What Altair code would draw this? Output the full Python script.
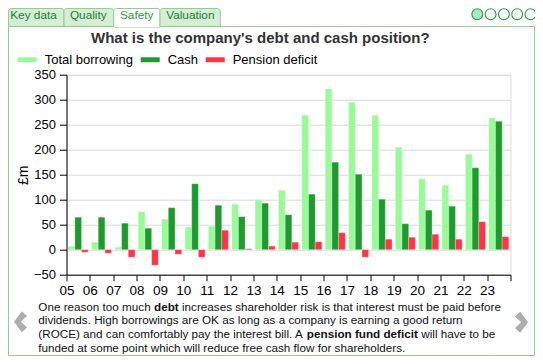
import altair as alt
import pandas as pd

# ---------------- data ----------------
years = ["05", "06", "07", "08", "09", "10", "11", "12", "13", "14",
         "15", "16", "17", "18", "19", "20", "21", "22", "23"]
total_borrowing = [7, 15, 5, 76, 61, 45, 47, 91, 100, 119,
                   269, 322, 295, 269, 205, 142, 129, 191, 264]
cash = [65, 65, 53, 43, 84, 132, 89, 66, 93, 70,
        111, 175, 151, 101, 52, 79, 87, 164, 257]
pension_deficit = [-5, -7, -15, -31, -9, -15, 39, 2, 7, 15,
                   16, 34, -15, 21, 25, 31, 21, 56, 26]
series_names = ["Total borrowing", "Cash", "Pension deficit"]
y_ticks = [-50, 0, 50, 100, 150, 200, 250, 300, 350]
tabs = ["Key data", "Quality", "Safety", "Valuation"]
title_text = "What is the company's debt and cash position?"

rows = []
for name, vals in zip(series_names, [total_borrowing, cash, pension_deficit]):
    for yr, v in zip(years, vals):
        rows.append({"year": yr, "series": name, "value": v})
df = pd.DataFrame(rows)
one = pd.DataFrame({"k": [0]})

# ---------------- layout helpers ----------------
FONT = "Liberation Sans"
PAD_L, PAD_T = 58.5, 66.7
W, H = 444, 200
OX, OY = 8 + PAD_L, 8 + PAD_T  # page position of plot origin


def px(X):
    return X - OX


def py(Y):
    return Y - OY


def text_at(txt, X, Y, size, weight="normal", color="black", align="left"):
    return alt.Chart(one).mark_text(
        text=txt, align=align, baseline="alphabetic", fontSize=size,
        fontWeight=weight, color=color, font=FONT
    ).encode(x=alt.value(px(X)), y=alt.value(py(Y)))


def rect_at(X1, Y1, X2, Y2, fill, stroke, r=0):
    return alt.Chart(one).mark_rect(
        fill=fill, stroke=stroke, strokeWidth=1,
        cornerRadiusTopLeft=r, cornerRadiusTopRight=r
    ).encode(x=alt.value(px(X1)), x2=alt.value(px(X2)),
             y=alt.value(py(Y1)), y2=alt.value(py(Y2)))


def point_at(X, Y, shape, size, fill, stroke=None, sw=0):
    kw = dict(shape=shape, size=size, fill=fill, filled=True, opacity=1,
              strokeWidth=sw)
    if stroke is not None:
        kw["stroke"] = stroke
    return alt.Chart(one).mark_point(**kw).encode(
        x=alt.value(px(X)), y=alt.value(py(Y)))


GREEN_BORDER = "#8fcf8f"
TAB_BG = "#d6edd6"
TAB_TXT = "#1d7d32"

layers = []
# panel border
layers.append(rect_at(8.5, 26.5, 534.5, 355.5, "transparent", GREEN_BORDER))
# tabs
tab_edges = [8.5, 64, 113.7, 160, 220.3]
tab_centers = [33.5, 88.3, 136.7, 190.3]
for i, name in enumerate(tabs):
    sel = name == "Safety"
    layers.append(rect_at(tab_edges[i], 8.5, tab_edges[i + 1],
                          27.2 if sel else 26.5,
                          "white" if sel else TAB_BG, GREEN_BORDER, r=3))
    layers.append(text_at(name, tab_centers[i], 19.4, 11.8,
                          color="#2a9a3a" if sel else TAB_TXT, align="center"))
# hide panel top line under the selected tab
layers.append(alt.Chart(one).mark_rule(color="white", strokeWidth=1.4).encode(
    x=alt.value(px(114.4)), x2=alt.value(px(159.3)),
    y=alt.value(py(26.5))))
# page dots
dot_x = [477.3, 490.6, 503.9, 517.2, 530.5]
for i, X in enumerate(dot_x):
    layers.append(point_at(X, 14.2, "circle", 118,
                           "#a6e9c2" if i == 0 else "white",
                           stroke="#2a9d4a", sw=1.1))

# chart title
layers.append(text_at(title_text, 260.3, 42.7, 15, weight="bold",
                      color="#333333", align="center"))

# bars
bars = alt.Chart(df).mark_bar(stroke="white", strokeWidth=0.8,
                              strokeOpacity=0.35).encode(
    x=alt.X("year:N", sort=years,
            scale=alt.Scale(paddingInner=0, paddingOuter=0),
            axis=alt.Axis(title=None, labelAngle=0, tickBand="extent",
                          labelOffset=-W / len(years) / 2, tickSize=6,
                          labelPadding=3, labelFontSize=13.5, labelFont=FONT,
                          labelColor="black", domainColor="black",
                          tickColor="black", grid=False)),
    xOffset=alt.XOffset("series:N", sort=series_names,
                        scale=alt.Scale(paddingInner=0, paddingOuter=0.25)),
    y=alt.Y("value:Q", scale=alt.Scale(domain=[-50, 350], nice=False),
            axis=alt.Axis(values=y_ticks, title="£m", titleFont=FONT,
                          titleFontSize=14, titleFontWeight="normal",
                          titleColor="black", titlePadding=3,
                          labelFontSize=13, labelFont=FONT, labelColor="black",
                          tickSize=7, labelPadding=4, domainColor="black",
                          tickColor="black", grid=True, gridColor="#dadada")),
    color=alt.Color("series:N", sort=series_names,
                    scale=alt.Scale(domain=series_names,
                                    range=["#98fb98", "#1e9a2e", "#ff3446"]),
                    legend=alt.Legend(orient="none", legendX=px(17.7),
                                      legendY=py(50), direction="horizontal",
                                      title=None,
                                      symbolType="M-1,-0.26H1V0.26H-1Z",
                                      symbolSize=361, symbolStrokeWidth=0,
                                      symbolOpacity=1,
                                      labelFontSize=13, labelFont=FONT,
                                      labelColor="black", labelOffset=8,
                                      columnPadding=7, padding=0)),
)
layers.append(bars)

# paragraph
P = 11.7
base = [310.5, 324.3, 338.1, 351.9]
LX = 38.3
sp = 0.278 * P
w_l1a = 9.894 * P
w_debt = 2.111 * P
w_l3a = 22.953 * P
w_pfd = 9.501 * P
TXT = "#111111"
layers.append(text_at("One reason too much", LX, base[0], P, color=TXT))
layers.append(text_at("debt", LX + w_l1a, base[0], P, weight="bold", color=TXT))
layers.append(text_at("increases shareholder risk is that interest must be paid before",
                      LX + w_l1a + w_debt + sp, base[0], P, color=TXT))
layers.append(text_at("dividends. High borrowings are OK as long as a company is earning a good return",
                      LX, base[1], P, color=TXT))
layers.append(text_at("(ROCE) and can comfortably pay the interest bill. A", LX, base[2], P, color=TXT))
layers.append(text_at("pension fund deficit", LX + w_l3a, base[2], P, weight="bold", color=TXT))
layers.append(text_at("will have to be", LX + w_l3a + w_pfd + sp, base[2], P, color=TXT))
layers.append(text_at("funded at some point which will reduce free cash flow for shareholders.",
                      LX, base[3], P, color=TXT))

# navigation chevrons
layers.append(point_at(19.7, 321.8, "M0.2,-1L0.7,-0.55L0.1,0L0.7,0.55L0.2,1L-0.55,0Z",
                       441, "#adadad"))
layers.append(point_at(522.3, 322.2, "M-0.2,-1L-0.7,-0.55L-0.1,0L-0.7,0.55L-0.2,1L0.55,0Z",
                       441, "#adadad"))

chart = alt.layer(*layers).properties(
    width=W, height=H,
    padding={"left": PAD_L, "top": PAD_T, "right": 527 - PAD_L - W,
             "bottom": 348 - PAD_T - H},
    autosize=alt.AutoSizeParams(type="none"),
).configure_view(stroke=None).configure(background="white")

chart.save("out.html", embed_options={"renderer": "svg", "actions": False})
